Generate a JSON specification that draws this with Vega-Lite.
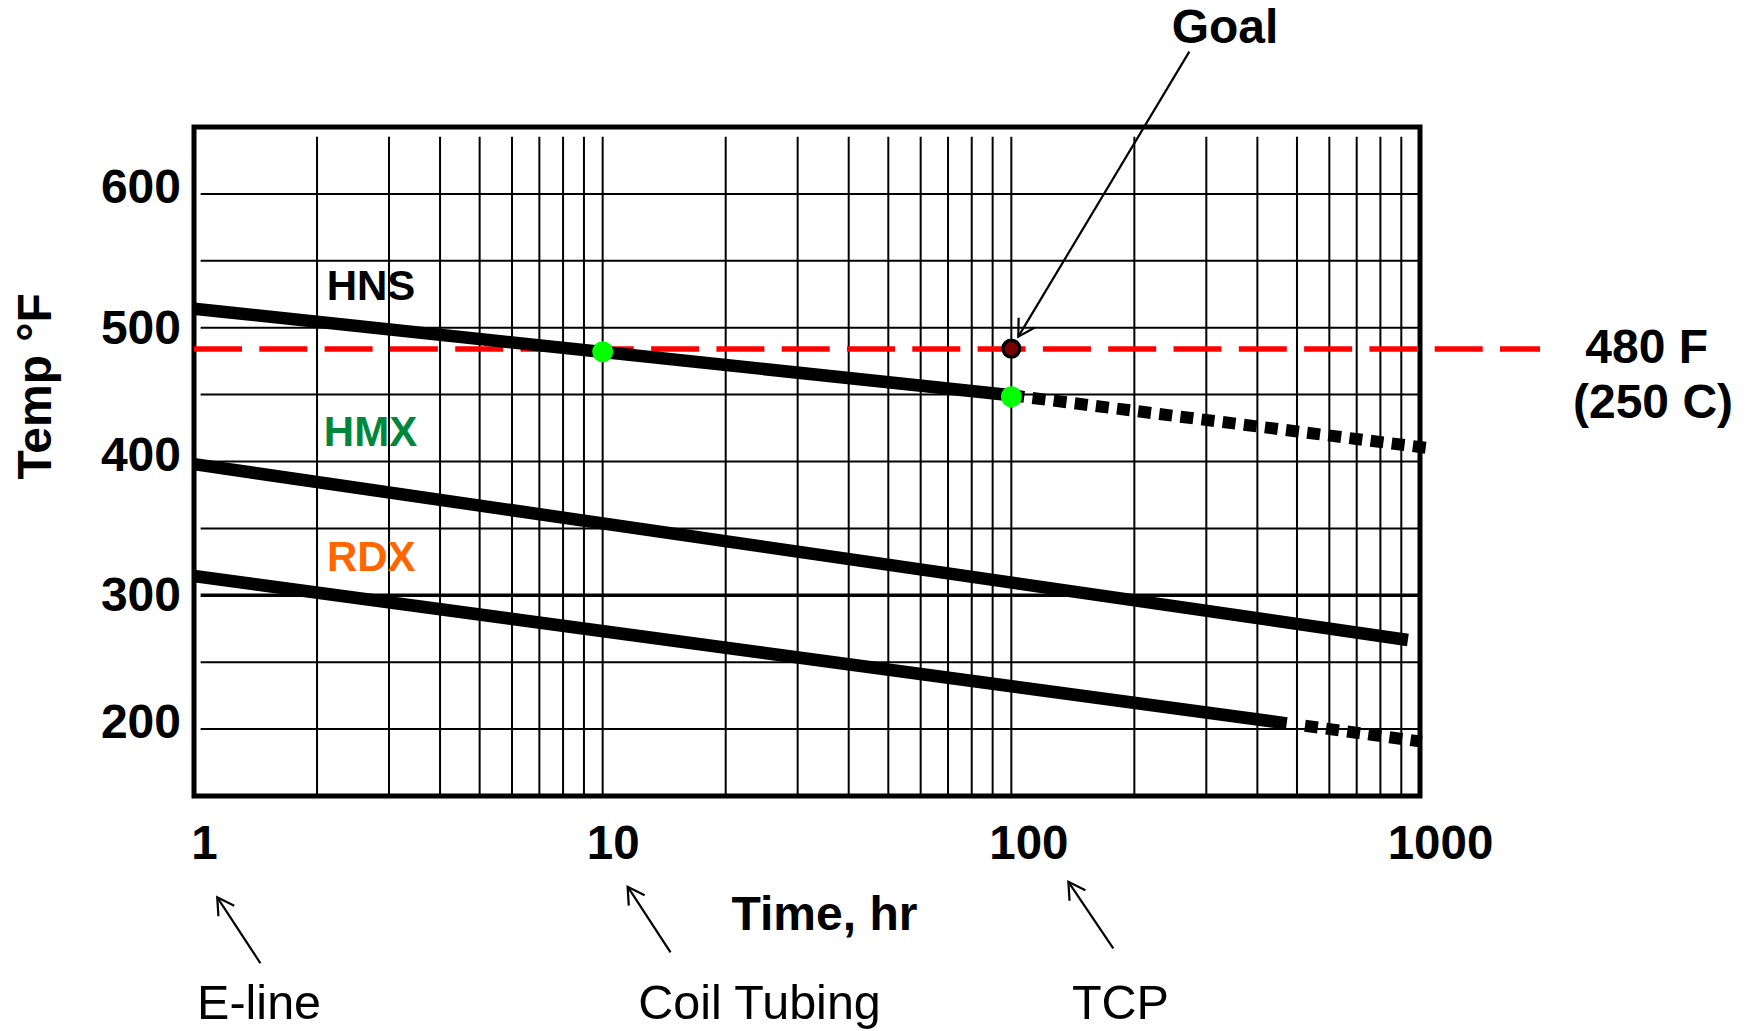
{
  "$schema": "https://vega.github.io/schema/vega-lite/v6.json",
  "width": 1226,
  "height": 669,
  "autosize": "none",
  "padding": {"left": 194, "top": 127, "right": 330, "bottom": 235},
  "background": "white",
  "config": {"view": {"stroke": "#000000", "strokeWidth": 5}, "font": "Liberation Sans"},
  "datasets": {
    "gridV": [
      {"t": 2, "temp": 150, "temp2": 642.7}, {"t": 3, "temp": 150, "temp2": 642.7}, {"t": 4, "temp": 150, "temp2": 642.7},
      {"t": 5, "temp": 150, "temp2": 642.7}, {"t": 6, "temp": 150, "temp2": 642.7}, {"t": 7, "temp": 150, "temp2": 642.7},
      {"t": 8, "temp": 150, "temp2": 642.7}, {"t": 9, "temp": 150, "temp2": 642.7}, {"t": 10, "temp": 150, "temp2": 642.7},
      {"t": 20, "temp": 150, "temp2": 642.7}, {"t": 30, "temp": 150, "temp2": 642.7}, {"t": 40, "temp": 150, "temp2": 642.7},
      {"t": 50, "temp": 150, "temp2": 642.7}, {"t": 60, "temp": 150, "temp2": 642.7}, {"t": 70, "temp": 150, "temp2": 642.7},
      {"t": 80, "temp": 150, "temp2": 642.7}, {"t": 90, "temp": 150, "temp2": 642.7}, {"t": 100, "temp": 150, "temp2": 642.7},
      {"t": 200, "temp": 150, "temp2": 642.7}, {"t": 300, "temp": 150, "temp2": 642.7}, {"t": 400, "temp": 150, "temp2": 642.7},
      {"t": 500, "temp": 150, "temp2": 642.7}, {"t": 600, "temp": 150, "temp2": 642.7}, {"t": 700, "temp": 150, "temp2": 642.7},
      {"t": 800, "temp": 150, "temp2": 642.7}, {"t": 900, "temp": 150, "temp2": 642.7}
    ],
    "gridH": [
      {"temp": 200, "t": 1.038, "t2": 1000}, {"temp": 250, "t": 1.038, "t2": 1000}, {"temp": 300, "t": 1.038, "t2": 1000},
      {"temp": 350, "t": 1.038, "t2": 1000}, {"temp": 400, "t": 1.038, "t2": 1000}, {"temp": 450, "t": 1.038, "t2": 1000},
      {"temp": 500, "t": 1.038, "t2": 1000}, {"temp": 550, "t": 1.038, "t2": 1000}, {"temp": 600, "t": 1.038, "t2": 1000}
    ],
    "limit": [{"t": 1, "t2": 1967, "temp": 484}],
    "curves": [
      {"series": "HNS", "seg": "solid", "t": 1, "temp": 514.2},
      {"series": "HNS", "seg": "solid", "t": 100, "temp": 449.5},
      {"series": "HNS", "seg": "dotted", "t": 100, "temp": 449.5},
      {"series": "HNS", "seg": "dotted", "t": 1050, "temp": 410},
      {"series": "HMX", "seg": "solid", "t": 1, "temp": 398},
      {"series": "HMX", "seg": "solid", "t": 934, "temp": 266.6},
      {"series": "RDX", "seg": "solid", "t": 1, "temp": 314.4},
      {"series": "RDX", "seg": "solid", "t": 472, "temp": 204.3},
      {"series": "RDX", "seg": "dotted", "t": 523, "temp": 202.5},
      {"series": "RDX", "seg": "dotted", "t": 1010, "temp": 190.6}
    ],
    "names": [
      {"name": "HNS", "t": 2.711, "temp": 520.7},
      {"name": "HMX", "t": 2.703, "temp": 411.6},
      {"name": "RDX", "t": 2.715, "temp": 318.4}
    ],
    "dots": [{"t": 10, "temp": 482}, {"t": 100, "temp": 448.4}],
    "goal": [{"t": 100, "temp": 484.4}],
    "arrows": [
      {"name": "Goal", "t": 104.0, "temp": 493.3, "t2": 272.6, "temp2": 706.3},
      {"name": "E-line", "t": 1.14, "temp": 74.3, "t2": 1.454, "temp2": 25.0},
      {"name": "Coil Tubing", "t": 11.51, "temp": 82.2, "t2": 14.66, "temp2": 33.2},
      {"name": "TCP", "t": 137.9, "temp": 85.9, "t2": 177.6, "temp2": 36.2}
    ],
    "boldNotes": [
      {"label": "Goal", "t": 333.3, "temp": 712.6},
      {"label": "480 F", "t": 3587, "temp": 473.8},
      {"label": "(250 C)", "t": 3717, "temp": 432.5}
    ],
    "plainNotes": [
      {"label": "E-line", "t": 1.443, "temp": -17},
      {"label": "Coil Tubing", "t": 24.2, "temp": -17},
      {"label": "TCP", "t": 184.9, "temp": -17}
    ]
  },
  "encoding": {
    "x": {
      "field": "t", "type": "quantitative",
      "scale": {"type": "log", "domain": [1, 1000], "nice": false},
      "axis": {
        "title": "Time, hr", "values": [1, 10, 100, 1000], "format": "d",
        "grid": false, "ticks": false, "tickSize": 0, "domain": false,
        "labelFont": "Liberation Sans", "labelFontSize": 47.5, "labelFontWeight": "bold", "labelColor": "#000000",
        "labelBaseline": "alphabetic", "labelAlign": "center", "labelPadding": 62.5,
        "labelFlush": false, "labelOverlap": false,
        "labelOffset": {"condition": [{"test": "datum.value == 1000", "value": 20}, {"test": "datum.value == 100", "value": 17}], "value": 10},
        "titleFont": "Liberation Sans", "titleFontSize": 48, "titleFontWeight": "bold", "titleColor": "#000000",
        "titleX": 630, "titleY": 133.3, "titleAlign": "center", "titleBaseline": "alphabetic"
      }
    },
    "y": {
      "field": "temp", "type": "quantitative",
      "scale": {"domain": [150, 650], "nice": false, "zero": false},
      "axis": {
        "title": "Temp °F", "values": [200, 300, 400, 500, 600], "format": "d",
        "grid": false, "ticks": false, "tickSize": 0, "domain": false,
        "labelFont": "Liberation Sans", "labelFontSize": 48, "labelFontWeight": "bold", "labelColor": "#000000",
        "labelBaseline": "alphabetic", "labelAlign": "right", "labelPadding": 13.5,
        "labelFlush": false, "labelOverlap": false,
        "labelOffset": {"condition": {"test": "datum.value == 500 || datum.value == 300", "value": 15.5}, "value": 8.5},
        "titleFont": "Liberation Sans", "titleFontSize": 48, "titleFontWeight": "bold", "titleColor": "#000000",
        "titleAngle": 270, "titleX": -144, "titleY": 258.8, "titleAlign": "center", "titleBaseline": "alphabetic"
      }
    }
  },
  "layer": [
    {
      "data": {"name": "gridH"},
      "mark": {"type": "rule", "color": "#000000"},
      "encoding": {
        "x2": {"field": "t2"},
        "strokeWidth": {"condition": {"test": "datum.temp == 300", "value": 3.5}, "value": 2}
      }
    },
    {
      "data": {"name": "gridV"},
      "mark": {"type": "rule", "color": "#000000", "strokeWidth": 2},
      "encoding": {"y2": {"field": "temp2"}}
    },
    {
      "data": {"name": "limit"},
      "mark": {"type": "rule", "color": "#ff0000", "strokeWidth": 5.5, "strokeDash": [48, 17.3]},
      "encoding": {"x2": {"field": "t2"}}
    },
    {
      "data": {"name": "curves"},
      "transform": [{"filter": "datum.seg == 'solid'"}],
      "mark": {"type": "line", "color": "#000000", "strokeWidth": 12.5, "strokeCap": "butt"},
      "encoding": {"detail": {"field": "series"}}
    },
    {
      "data": {"name": "curves"},
      "transform": [{"filter": "datum.seg == 'dotted'"}],
      "mark": {"type": "line", "color": "#000000", "strokeWidth": 12, "strokeCap": "butt", "strokeDash": [13, 8.3]},
      "encoding": {"detail": {"field": "series"}}
    },
    {
      "data": {"name": "names"},
      "mark": {"type": "text", "font": "Liberation Sans", "fontSize": 42, "fontWeight": "bold", "align": "center", "baseline": "alphabetic"},
      "encoding": {
        "text": {"field": "name"},
        "color": {"field": "name", "type": "nominal", "scale": {"domain": ["HNS", "HMX", "RDX"], "range": ["#000000", "#00873C", "#FF6600"]}, "legend": null}
      }
    },
    {
      "data": {"name": "goal"},
      "mark": {"type": "point", "shape": "circle", "filled": true, "fill": "#7a0000", "stroke": "#000000", "strokeWidth": 3.5, "size": 280, "opacity": 1}
    },
    {
      "data": {"name": "dots"},
      "mark": {"type": "point", "shape": "circle", "filled": true, "color": "#00ff00", "size": 440, "opacity": 1}
    },
    {
      "data": {"name": "arrows"},
      "mark": {"type": "rule", "color": "#000000", "strokeWidth": 2.2},
      "encoding": {"x2": {"field": "t2"}, "y2": {"field": "temp2"}}
    },
    {
      "data": {"name": "arrows"},
      "mark": {"type": "point", "shape": "M -0.5 0.866 L 0 0 L 0.5 0.866", "filled": false, "stroke": "#000000", "strokeWidth": 2.2, "size": 1444, "opacity": 1},
      "encoding": {
        "angle": {"condition": {"test": "datum.name == 'Goal'", "value": 211}, "value": -33.5}
      }
    },
    {
      "data": {"name": "boldNotes"},
      "mark": {"type": "text", "font": "Liberation Sans", "fontSize": 48, "fontWeight": "bold", "align": "center", "baseline": "alphabetic", "color": "#000000"},
      "encoding": {"text": {"field": "label"}}
    },
    {
      "data": {"name": "plainNotes"},
      "mark": {"type": "text", "font": "Liberation Sans", "fontSize": 48.5, "fontWeight": "normal", "align": "center", "baseline": "alphabetic", "color": "#000000"},
      "encoding": {"text": {"field": "label"}}
    }
  ]
}
